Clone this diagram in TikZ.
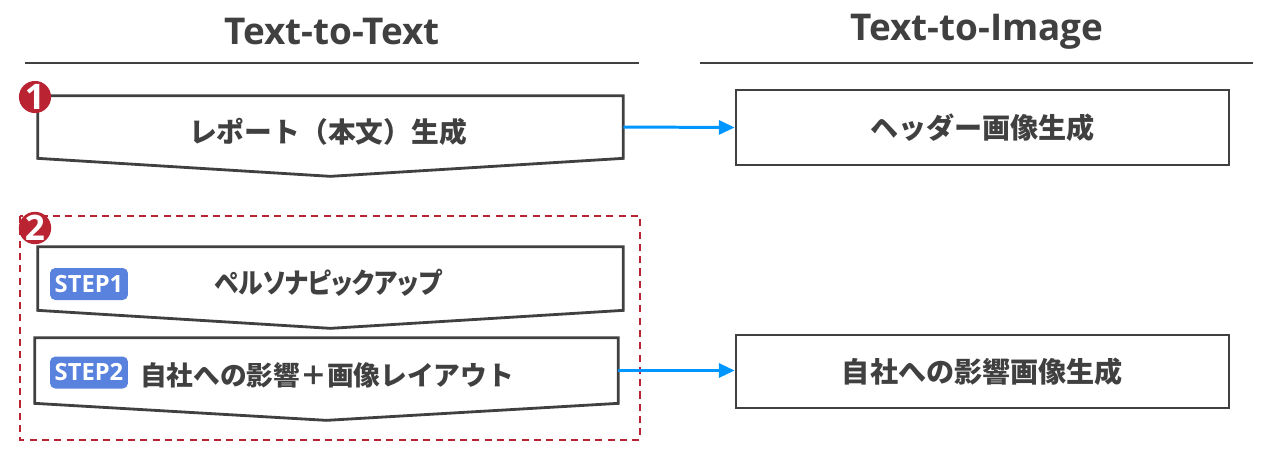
\documentclass[tikz,border=0pt]{standalone}
\usepackage{fontspec}
\setmainfont{Open Sans}
\newfontfamily\jpfont{Noto Sans CJK JP}
\newfontfamily\jpnarrow{Noto Sans CJK JP}[RawFeature=+palt]
\usetikzlibrary{positioning,arrows.meta}
\definecolor{ink}{RGB}{64,64,64}
\definecolor{badgered}{RGB}{185,35,50}
\definecolor{flowblue}{RGB}{0,150,255}
\definecolor{stepblue}{RGB}{88,130,222}

\begin{document}
\begin{tikzpicture}[
  x=0.02cm, y=-0.02cm,
  title/.style={font=\bfseries\fontsize{21}{25}\selectfont, text=ink},
  rule/.style={draw=ink, line width=1.6pt},
  frame/.style={draw=ink, line width=1.6pt},
  chev/.style={minimum width=11.7cm, inner sep=0pt},
  jptext/.style={font=\jpfont\bfseries\fontsize{16}{19}\selectfont, text=ink},
  plain/.style={frame, jptext, minimum width=9.86cm, inner sep=0pt},
  badge/.style={circle, fill=badgered, text=white, font=\bfseries\fontsize{20}{20}\selectfont, minimum size=0.64cm, inner sep=0pt},
  steptag/.style={fill=stepblue, rounded corners=3pt, text=white, font=\bfseries\fontsize{13.5}{15}\selectfont, minimum width=1.56cm, minimum height=0.64cm, inner sep=0pt},
  group/.style={draw=badgered, line width=1.2pt, dash pattern=on 4pt off 3pt},
  flow/.style={draw=flowblue, line width=1.7pt, -{Triangle[length=9pt,width=8pt]}}
]
  \useasboundingbox (0,0) rectangle (1280,474);

  % Headings
  \node[title] (tt) at (332,32) {Text-to-Text};
  \node[title] (ti) at (977,32) {Text-to-Image};
  \draw[rule] (25,63) -- (639,63);
  \draw[rule] (700,63) -- (1253,63);

  % Group of step 2
  \draw[group] (20,216) rectangle (640,440);

  % Nodes
  \node[chev, minimum height=1.24cm] (rep) at (330.5,127) {};
  \node[chev, minimum height=1.26cm] (per) at (330.5,278.5) {};
  \node[chev, minimum height=1.30cm, minimum width=11.66cm] (imp) at (326.5,370.5) {};
  \draw[frame] (rep.north west) -- (rep.north east) -- (rep.south east) -- ([yshift=-0.36cm]rep.south) -- (rep.south west) -- cycle;
  \draw[frame] (per.north west) -- (per.north east) -- (per.south east) -- ([yshift=-0.36cm]per.south) -- (per.south west) -- cycle;
  \draw[frame] (imp.north west) -- (imp.north east) -- (imp.south east) -- ([yshift=-0.34cm]imp.south) -- (imp.south west) -- cycle;
  \node[jptext, font=\jpfont\bfseries\fontsize{15.8}{19}\selectfont] at (328,132) {レポート（本文）生成};
  \node[jptext, font=\jpnarrow\bfseries\fontsize{16}{19}\selectfont, xscale=0.88, transform shape] at (328,283) {ペルソナピックアップ};
  \node[jptext, font=\jpfont\bfseries\fontsize{15.2}{19}\selectfont] at (327,375) {自社への影響＋画像レイアウト};

  \node[plain, minimum height=1.5cm] (hdr) at (982.5,127.5) {ヘッダー画像生成};
  \node[plain, minimum height=1.46cm] (eff) at (982.5,371.5) {自社への影響画像生成};

  \node[badge] (b1) at (35,97) {1};
  \node[badge] (b2) at (35,228) {2};
  \node[steptag] (s1) at (89,284) {STEP1};
  \node[steptag] (s2) at (89,372.5) {STEP2};

  % Arrows
  \draw[flow] (rep.east) -- (hdr.west);
  \draw[flow] (imp.east) -- (imp.east -| eff.west);
\end{tikzpicture}
\end{document}
